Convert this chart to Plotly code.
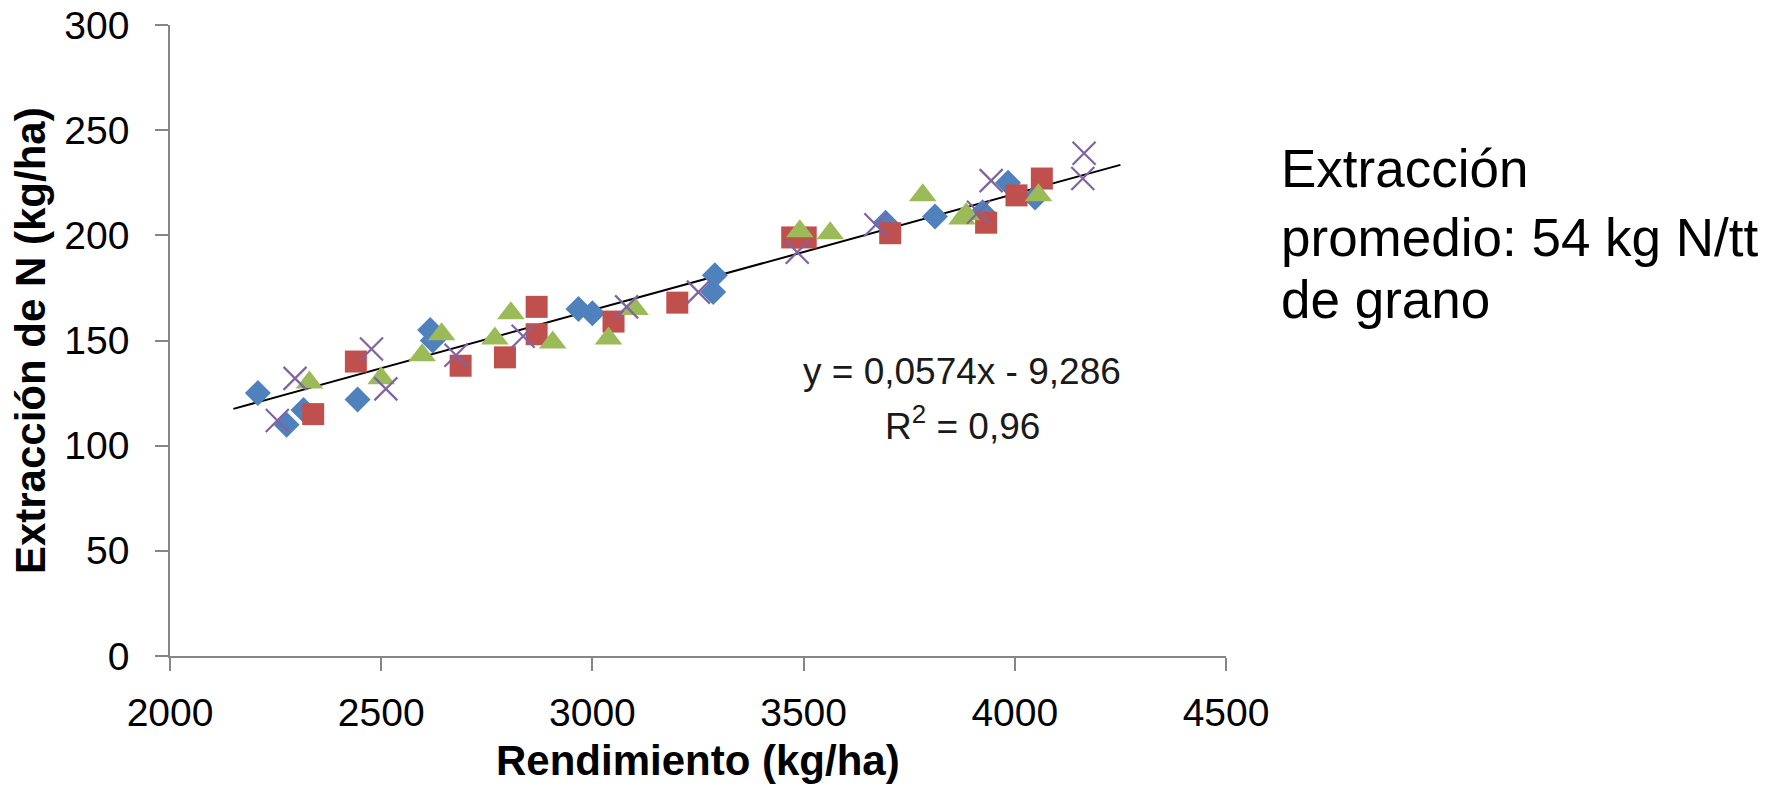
import plotly.graph_objects as go

# Series values
s1_x = [2208, 2276, 2316, 2444, 2616, 2622, 2967, 3000, 3286, 3290, 3694, 3811, 3924, 3984, 4048]
s1_y = [125, 110, 117, 122, 155, 150, 165, 163, 173, 181, 206, 209, 211, 225, 218]

s2_x = [2339, 2440, 2688, 2793, 2868, 2868, 3050, 3201, 3473, 3505, 3705, 3932, 4004, 4064]
s2_y = [115, 140, 138, 142, 153, 166, 159, 168, 199, 199, 201, 206, 219, 227]

s3_x = [2330, 2500, 2597, 2643, 2769, 2807, 2906, 3038, 3101, 3491, 3563, 3782, 3875, 3885, 4056]
s3_y = [130, 132, 143, 153, 151, 163, 149, 151, 165, 202, 201, 219, 208, 210, 219]

s4_x = [2254, 2296, 2477, 2511, 2677, 2836, 3081, 3251, 3485, 3671, 3914, 3944, 4161, 4164]
s4_y = [112, 132, 146, 127, 143, 152, 166, 173, 192, 205, 211, 226, 227, 239]

# Trend line end points as drawn in the reference
trend_x = [2150, 4250]
trend_y = [117.5, 233.5]

x_ticks = [2000, 2500, 3000, 3500, 4000, 4500]
y_ticks = [0, 50, 100, 150, 200, 250, 300]

eq_lines = ["y = 0,0574x - 9,286", "R<sup>2</sup> = 0,96"]
note_lines = ["Extracción", "promedio: 54 kg N/tt", "de grano"]

FONT = "Liberation Sans, Arial, sans-serif"

fig = go.Figure()
fig.add_trace(go.Scatter(x=trend_x, y=trend_y, mode="lines",
                         line=dict(color="black", width=2), showlegend=False, hoverinfo="skip"))
fig.add_trace(go.Scatter(x=s1_x, y=s1_y, mode="markers", showlegend=False,
                         marker=dict(symbol="diamond", size=20, color="#4F81BD")))
fig.add_trace(go.Scatter(x=s2_x, y=s2_y, mode="markers", showlegend=False,
                         marker=dict(symbol="square", size=22, color="#C0504D")))
fig.add_trace(go.Scatter(x=s3_x, y=s3_y, mode="markers", showlegend=False,
                         marker=dict(symbol="triangle-up", size=24, color="#9BBB59")))
fig.add_trace(go.Scatter(x=s4_x, y=s4_y, mode="markers", showlegend=False,
                         marker=dict(symbol="x-thin-open", size=23, color="#8064A2",
                                     line=dict(color="#8064A2", width=2.2))))

axis_common = dict(showgrid=False, zeroline=False, showline=True, linecolor="#868686",
                   linewidth=1.5, ticks="outside", ticklen=13, tickcolor="#868686",
                   tickwidth=1.5, automargin=False, ticklabeloverflow="allow",
                   tickfont=dict(family=FONT, size=39, color="black"))

annotations = [
    dict(text="<b>Rendimiento (kg/ha)</b>", xref="paper", yref="paper",
         x=0.5, y=-0.165, xanchor="center", yanchor="middle", showarrow=False,
         font=dict(family=FONT, size=42, color="black")),
    dict(text="<b>Extracción de N (kg/ha)</b>", xref="paper", yref="paper",
         x=-0.132, y=0.50, xanchor="center", yanchor="middle", textangle=-90,
         showarrow=False, font=dict(family=FONT, size=42, color="black")),
]
eq_y = [135.5, 110.5]
for txt, yy in zip(eq_lines, eq_y):
    annotations.append(dict(text=txt, xref="x", yref="y", x=3875, y=yy,
                            xanchor="center", yanchor="middle", showarrow=False,
                            font=dict(family=FONT, size=37, color="#1a1a1a")))
note_y = [0.772, 0.664, 0.565]
for txt, yy in zip(note_lines, note_y):
    annotations.append(dict(text=txt, xref="paper", yref="paper", x=1.05, y=yy,
                            xanchor="left", yanchor="middle", align="left", showarrow=False,
                            font=dict(family=FONT, size=53, color="black")))

fig.update_layout(
    width=1779, height=786,
    margin=dict(l=170, r=553, t=25, b=130),
    paper_bgcolor="white", plot_bgcolor="white",
    xaxis=dict(range=[2000, 4500], tickvals=x_ticks, ticklabelstandoff=8, **axis_common),
    yaxis=dict(range=[0, 300], tickvals=y_ticks, ticklabelstandoff=18, **axis_common),
    annotations=annotations,
)

fig.write_html("out.html")
